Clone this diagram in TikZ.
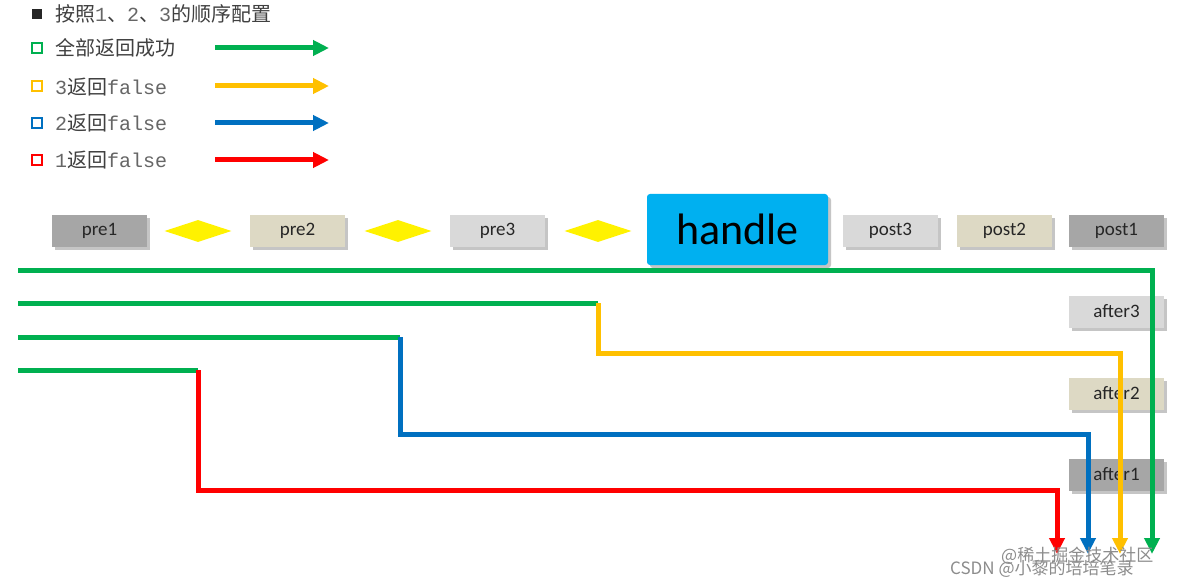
\documentclass[tikz,border=0pt]{standalone}
\usepackage{fontspec}
\setmainfont{Carlito}
\newfontfamily\cjk{Noto Sans CJK SC}
\newfontfamily\mono{Liberation Mono}
\usetikzlibrary{shapes.geometric,arrows.meta,shadows}
\definecolor{cgreen}{HTML}{00B050}
\definecolor{cyellow}{HTML}{FFC000}
\definecolor{cblue}{HTML}{0070C0}
\definecolor{cred}{HTML}{FF0000}
\definecolor{cdark}{HTML}{A6A6A6}
\definecolor{cbeige}{HTML}{DDD9C4}
\definecolor{clight}{HTML}{D9D9D9}
\definecolor{chandle}{HTML}{00B0F0}
\definecolor{ctext}{HTML}{404040}
\tikzset{
  box/.style={minimum width=95pt,minimum height=32pt,inner sep=0pt,
    font=\fontsize{19}{19}\selectfont,text=black!85,
    drop shadow={shadow xshift=3pt,shadow yshift=-3pt,fill=black!45,opacity=0.5}},
  dia/.style={diamond,fill=yellow,minimum width=67pt,minimum height=22pt,inner sep=0pt},
  flow/.style={line width=5pt},
  tip/.style={-{Triangle[width=15pt,length=16pt]}},
  leg/.style={anchor=west,inner sep=0pt,text=ctext,font=\cjk\fontsize{20}{20}\selectfont},
  monotxt/.style={},
  legbox/.style={minimum size=10pt,inner sep=0pt,line width=2.5pt},
  wm/.style={text=black!45,inner sep=0pt,font=\cjk\fontsize{17}{17}\selectfont}
}
\newcommand{\mtx}[1]{{\mono\color{black!60}#1}}
\begin{document}
\begin{tikzpicture}[x=1pt,y=-1pt]
\useasboundingbox[fill=white] (0,0) rectangle (1178,588);
% legend
\node[legbox,fill=black!85] (s0) at (37,14) {};
\node[leg] (t0) at (55,14) {按照\mtx{1}、\mtx{2}、\mtx{3}的顺序配置};
\node[legbox,draw=cgreen] (s1) at (37,48) {};
\node[leg] (t1) at (55,48) {全部返回成功};
\node[legbox,draw=cyellow] (s2) at (37,86) {};
\node[leg] (t2) at (55,87) {\mtx{3}返回\mtx{false}};
\node[legbox,draw=cblue] (s3) at (37,123) {};
\node[leg] (t3) at (55,123) {\mtx{2}返回\mtx{false}};
\node[legbox,draw=cred] (s4) at (37,160) {};
\node[leg] (t4) at (55,160) {\mtx{1}返回\mtx{false}};
\coordinate (a1s) at (215,48); \coordinate (a1e) at (329,48);
\coordinate (a2s) at (215,86); \coordinate (a2e) at (329,86);
\coordinate (a3s) at (215,123); \coordinate (a3e) at (329,123);
\coordinate (a4s) at (215,160); \coordinate (a4e) at (329,160);
\draw[flow,tip,cgreen] (a1s) -- (a1e);
\draw[flow,tip,cyellow] (a2s) -- (a2e);
\draw[flow,tip,cblue] (a3s) -- (a3e);
\draw[flow,tip,cred] (a4s) -- (a4e);
% top row
\node[box,fill=cdark] (pre1) at (99.5,231) {pre1};
\node[dia] (d1) at (198,231) {};
\node[box,fill=cbeige] (pre2) at (297.5,231) {pre2};
\node[dia] (d2) at (398,231) {};
\node[box,fill=clight] (pre3) at (497.5,231) {pre3};
\node[dia] (d3) at (598,231) {};
\node[box,fill=chandle,minimum width=181pt,minimum height=71pt,rounded corners=3pt,
  font=\fontsize{44}{44}\selectfont,text=black] (handle) at (737.5,229.5) {handle};
\node[box,fill=clight] (post3) at (890.5,231) {post3};
\node[box,fill=cbeige] (post2) at (1004.5,231) {post2};
\node[box,fill=cdark] (post1) at (1116.5,231) {post1};
\node[box,fill=clight] (after3) at (1116.5,311.5) {after3};
\node[box,fill=cbeige] (after2) at (1116.5,393.5) {after2};
\node[box,fill=cdark] (after1) at (1116.5,474.5) {after1};
% flows
\coordinate (g0) at (18,270); \coordinate (gE) at (1152,554);
\coordinate (g1) at (18,303); \coordinate (y0) at (598,303); \coordinate (y1) at (598,353); \coordinate (yE) at (1120,554);
\coordinate (g2) at (18,337); \coordinate (b0) at (400,337); \coordinate (b1) at (400,434); \coordinate (bE) at (1088,554);
\coordinate (g3) at (18,370); \coordinate (r0) at (198,370); \coordinate (r1) at (198,490); \coordinate (rE) at (1057,554);
\draw[flow,cgreen] (g1) -- (y0);
\draw[flow,cgreen] (g2) -- (b0);
\draw[flow,cgreen] (g3) -- (r0);
\draw[flow,tip,cred] (r0) -- (r1) -| (rE);
\draw[flow,tip,cblue] (b0) -- (b1) -| (bE);
\draw[flow,tip,cyellow] (y0) -- (y1) -| (yE);
\draw[flow,tip,cgreen] (g0) -| (gE);
% watermarks
\node[wm,anchor=west] (w1) at (1001,556) {@稀土掘金技术社区};
\node[wm,anchor=west] (w2) at (950,569) {CSDN @小黎的培培笔录};
\end{tikzpicture}
\end{document}
